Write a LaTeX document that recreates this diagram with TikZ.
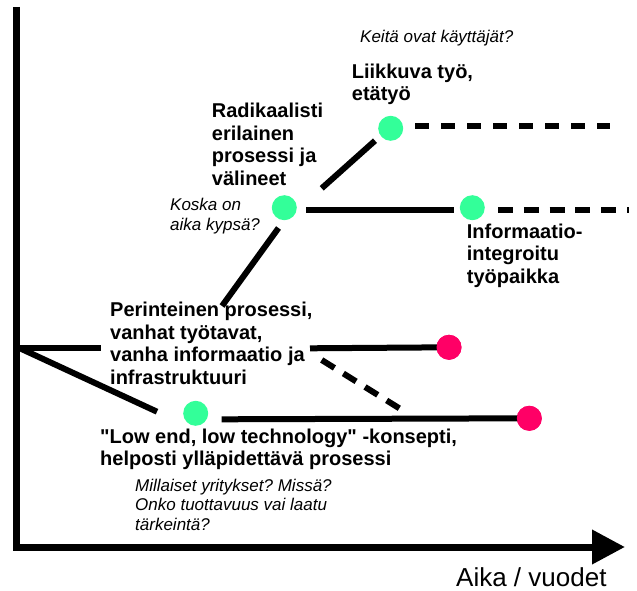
\documentclass[tikz,border=0pt]{standalone}
\usepackage{fontspec}
\setmainfont{Liberation Sans}[Ligatures=TeXOff]
\usetikzlibrary{arrows.meta}
\definecolor{mint}{HTML}{33FF99}
\definecolor{rose}{HTML}{FF0066}
\frenchspacing
\begin{document}
\begin{tikzpicture}[x=1pt,y=-1pt,
  dot/.style={circle,inner sep=0pt,minimum size=25pt},
  go/.style={dot,fill=mint},
  stop/.style={dot,fill=rose},
  path/.style={line width=6pt},
  dashpath/.style={line width=6pt,dash pattern=on 14pt off 12pt},
  heading/.style={inner sep=0pt,anchor=base west,align=left,font=\fontsize{20}{22.5}\selectfont\bfseries},
  question/.style={inner sep=0pt,anchor=base west,align=left,font=\fontsize{17}{19.5}\selectfont\itshape},
  axis/.style={line width=7pt,-{Triangle[length=33pt,width=33pt]}}]
\useasboundingbox (0,0) rectangle (637,591);

% time axis
\coordinate (top) at (16.5,7);
\coordinate (origin) at (16.5,547);
\coordinate (tip) at (625,547);
\draw[axis] (top) -- (origin) -- (tip);
\node[inner sep=0pt,anchor=base west,font=\fontsize{26}{30}\selectfont] (axislabel) at (456,586) {Aika / vuodet};

% milestones
\node[go] (mobile) at (390.7,128.3) {};
\node[go] (radical) at (284.3,207.7) {};
\node[go] (integrated) at (472.3,207.7) {};
\node[stop] (legacyend) at (449,347.3) {};
\node[go] (lowend) at (195.7,413.3) {};
\node[stop] (lowendend) at (529.3,418.3) {};

% branch points and free ends
\coordinate (start) at (20,348.3);
\coordinate (legacyA) at (100.7,348.3);
\coordinate (legacyB) at (310,348.3);
\coordinate (riseA) at (222,306);
\coordinate (riseB) at (278.5,228);
\coordinate (upA) at (321.7,188.3);
\coordinate (upB) at (375,140.7);
\coordinate (midA) at (306,210);
\coordinate (midB) at (454,210);
\coordinate (mobileA) at (415,125.7);
\coordinate (mobileB) at (610,125.7);
\coordinate (integA) at (498,210);
\coordinate (integB) at (628.5,210);
\coordinate (dropA) at (157,411.7);
\coordinate (lowA) at (221.7,419.3);
\coordinate (shiftA) at (321.7,360);
\coordinate (shiftB) at (399.3,408.3);

% trajectories
\draw[path] (start) -- (legacyA);
\draw[path] (legacyB) -- (legacyend.center);
\draw[path] (start) -- (dropA);
\draw[path] (lowA) -- (lowendend.center);
\draw[path] (riseA) -- (riseB);
\draw[path] (upA) -- (upB);
\draw[path] (midA) -- (midB);
\draw[dashpath] (mobileA) -- (mobileB);
\draw[line width=6pt,dash pattern=on 15pt off 10.8pt] (integA) -- (integB);
\draw[line width=6pt,dash pattern=on 15pt off 10.5pt] (shiftA) -- (shiftB);

% redraw dots above line ends
\node[stop] at (legacyend) {};
\node[stop] at (lowendend) {};

% labels (anchored at the baseline of their last line)
\node[question] (users) at (360,43) {Keitä ovat käyttäjät?};
\node[heading] (mobiletext) at (351.7,100.7) {Liikkuva työ,\\etätyö};
\node[heading] (radicaltext) at (211.7,185) {Radikaalisti\\erilainen\\prosessi ja\\välineet};
\node[question] (timing) at (170,230) {Koska on\\aika kypsä?};
\node[heading] (integtext) at (466.7,283) {Informaatio-\\integroitu\\työpaikka};
\node[heading] (legacytext) at (110,384.3) {Perinteinen prosessi,\\vanhat työtavat,\\vanha informaatio ja\\infrastruktuuri};
\node[heading] (lowtext) at (100,465.7) {"Low end, low technology" -konsepti,\\helposti ylläpidettävä prosessi};
\node[question] (firms) at (135,530) {Millaiset yritykset? Missä?\\Onko tuottavuus vai laatu\\tärkeintä?};
\end{tikzpicture}
\end{document}
